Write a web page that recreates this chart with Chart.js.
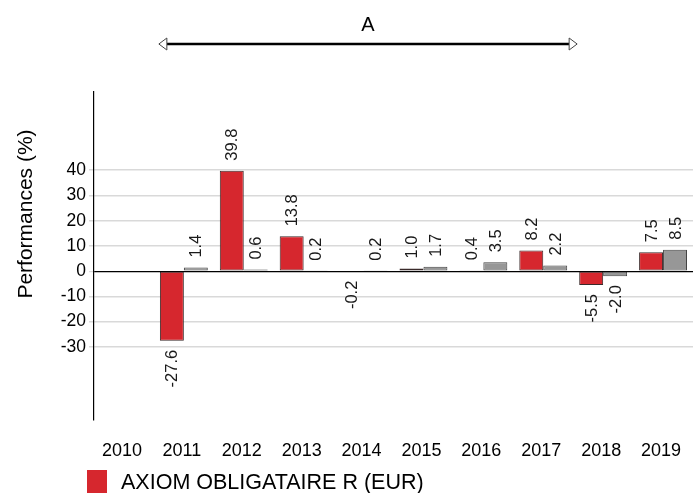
<!DOCTYPE html>
<html>
<head>
<meta charset="utf-8">
<script src="https://cdn.jsdelivr.net/npm/chart.js@4/dist/chart.umd.min.js"></script>
<style>
html,body{margin:0;padding:0;background:#fff;}
#wrap{width:698px;height:493px;position:relative;}
</style>
</head>
<body>
<div id="wrap"><canvas id="c" width="698" height="493"></canvas></div>
<script>
const categories = ['2010','2011','2012','2013','2014','2015','2016','2017','2018','2019'];
const fundValues = [null, -27.6, 39.8, 13.8, -0.2, 1.0, 0.4, 8.2, -5.5, 7.5];
const benchValues = [null, 1.4, 0.6, 0.2, 0.2, 1.7, 3.5, 2.2, -2.0, 8.5];
const yTickValues = [-30, -20, -10, 0, 10, 20, 30, 40];
const fundLabel = 'AXIOM OBLIGATAIRE R (EUR)';
const benchLabel = 'Indice';
const yTitle = 'Performances (%)';
const periodLabel = 'A';
const periodStart = 1, periodEnd = 8;

const FONT = "'Liberation Sans', Arial, sans-serif";
const RED = '#d6272e', GREY = '#979797';

const overlay = {
  id: 'overlay',
  afterDatasetsDraw(chart) {
    const ctx = chart.ctx;
    const xs = chart.scales.x;
    // data labels
    chart.data.datasets.forEach((ds, di) => {
      const meta = chart.getDatasetMeta(di);
      meta.data.forEach((bar, i) => {
        const v = ds.data[i];
        if (v === null || v === undefined) return;
        ctx.save();
        ctx.font = '16.5px ' + FONT;
        ctx.fillStyle = '#1a1a1a';
        ctx.translate(bar.x, bar.y + (v >= 0 ? -10 : 9));
        ctx.rotate(-Math.PI / 2);
        ctx.textAlign = v >= 0 ? 'left' : 'right';
        ctx.textBaseline = 'middle';
        ctx.fillText(v.toFixed(1), 0, 1);
        ctx.restore();
      });
    });
    // period arrow
    const x1 = xs.getPixelForValue(periodStart) - 25;
    const x2 = xs.getPixelForValue(periodEnd) - 26;
    const y = 44;
    ctx.save();
    ctx.strokeStyle = '#000';
    ctx.lineWidth = 2.5;
    ctx.beginPath();
    ctx.moveTo(x1 + 8, y); ctx.lineTo(x2 - 8, y); ctx.stroke();
    ctx.lineWidth = 1;
    ctx.strokeStyle = '#444';
    ctx.fillStyle = '#fff';
    ctx.beginPath();
    ctx.moveTo(x1, y); ctx.lineTo(x1 + 8, y - 6); ctx.lineTo(x1 + 8, y + 6); ctx.closePath();
    ctx.fill(); ctx.stroke();
    ctx.beginPath();
    ctx.moveTo(x2, y); ctx.lineTo(x2 - 8, y - 6); ctx.lineTo(x2 - 8, y + 6); ctx.closePath();
    ctx.fill(); ctx.stroke();
    ctx.fillStyle = '#000';
    ctx.font = '20px ' + FONT;
    ctx.textAlign = 'center';
    ctx.textBaseline = 'middle';
    ctx.fillText(periodLabel, (x1 + x2) / 2, 25);
    // y title
    ctx.save();
    ctx.translate(26, 214);
    ctx.rotate(-Math.PI / 2);
    ctx.font = '21px ' + FONT;
    ctx.fillText(yTitle, 0, 0);
    ctx.restore();
    // legend
    ctx.fillStyle = RED;
    ctx.fillRect(87, 470, 20, 23);
    ctx.fillStyle = '#000';
    ctx.textAlign = 'left';
    ctx.font = '21.5px ' + FONT;
    ctx.fillText(fundLabel, 121, 483);
    ctx.restore();
  }
};

new Chart(document.getElementById('c'), {
  type: 'bar',
  data: {
    labels: categories,
    datasets: [
      { label: fundLabel, data: fundValues, backgroundColor: RED, borderColor: '#3a2a2a', borderWidth: 1, borderSkipped: false, categoryPercentage: 0.8, barPercentage: 1.0 },
      { label: benchLabel, data: benchValues, backgroundColor: GREY, borderColor: '#444', borderWidth: 1, borderSkipped: false, categoryPercentage: 0.8, barPercentage: 1.0 }
    ]
  },
  options: {
    responsive: false,
    animation: false,
    layout: { padding: { left: 0, right: 5, top: 92, bottom: 0 } },
    plugins: { legend: { display: false }, tooltip: { enabled: false } },
    scales: {
      x: {
        grid: { display: false },
        border: { display: false },
        ticks: { font: { size: 18, family: FONT }, color: '#000', padding: 12, labelOffset: -2, maxRotation: 0 },
        afterFit(s) { s.height = 73; }
      },
      y: {
        min: -59, max: 71,
        afterBuildTicks(s) { s.ticks = yTickValues.map(v => ({ value: v })); },
        afterFit(s) { s.width = 94; },
        grid: {
          color: c => (c.tick && c.tick.value === 0) ? '#000' : '#d9d9d9',
          lineWidth: c => (c.tick && c.tick.value === 0) ? 1.2 : 1.5,
          tickLength: 5,
          tickColor: '#d9d9d9'
        },
        border: { display: true, color: '#000', width: 1.2 },
        ticks: { font: { size: 17.5, family: FONT }, color: '#000', padding: 3 }
      }
    }
  },
  plugins: [overlay]
});
</script>
</body>
</html>
